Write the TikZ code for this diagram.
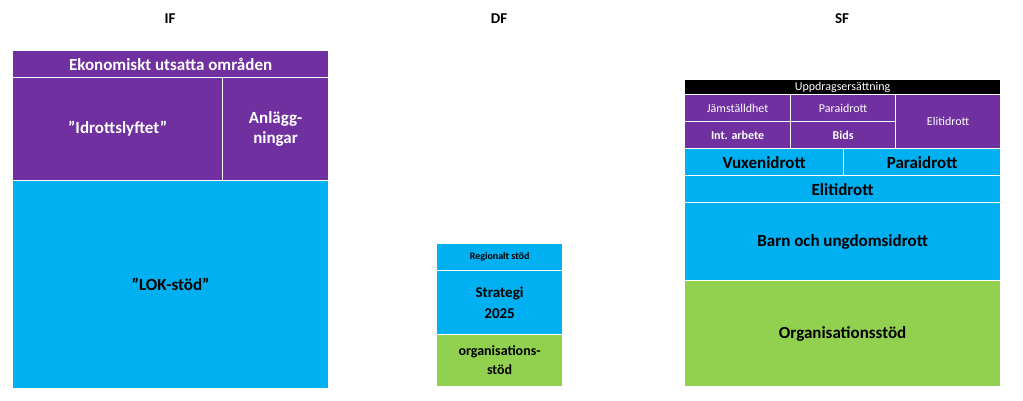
\documentclass[tikz,border=0pt]{standalone}
\usepackage{fontspec}
\setmainfont{Carlito}
\definecolor{pu}{HTML}{7030A0}
\definecolor{bl}{HTML}{00B0F0}
\definecolor{gr}{HTML}{92D050}
\begin{document}
\begin{tikzpicture}[x=1pt,y=-1pt,
 cell/.style={draw=white,line width=1.2pt,inner sep=0pt,anchor=north west,align=center,font=\bfseries},
 ttl/.style={font=\bfseries\fontsize{15}{16}\selectfont}]
\useasboundingbox (0,0) rectangle (1023,401);
\newcommand\cellbox[7]{\node[cell,fill=#1,text=#7,minimum width=#4-#2,minimum height=#5-#3,font=\bfseries\fontsize{#6}{#6}\selectfont] (#1x#2x#3) at (#2,#3) {};}
\node[ttl] (tif) at (170,19) {IF};
\node[ttl] (tdf) at (499,19) {DF};
\node[ttl] (tsf) at (842,19) {SF};
% IF
\node[cell,fill=pu,text=white,minimum width=316,minimum height=27,font=\bfseries\fontsize{17}{17}\selectfont] (a1) at (12,50) {Ekonomiskt utsatta områden};
\node[cell,fill=pu,text=white,minimum width=210,minimum height=103,font=\bfseries\fontsize{17}{17}\selectfont] (a2) at (12,77) {"Idrottslyftet"};
\node[cell,fill=pu,text=white,minimum width=106,minimum height=103,font=\bfseries\fontsize{17}{20}\selectfont] (a3) at (222,77) {Anlägg-\\ningar};
\node[cell,fill=bl,text=black,minimum width=316,minimum height=208,font=\bfseries\fontsize{17}{17}\selectfont] (a4) at (12,180) {"LOK-stöd"};
% DF
\node[cell,fill=bl,text=black,minimum width=126,minimum height=27,font=\bfseries\fontsize{10}{10}\selectfont] (b1) at (436,243) {Regionalt stöd};
\node[cell,fill=bl,text=black,minimum width=126,minimum height=64,font=\bfseries\fontsize{15}{21}\selectfont] (b2) at (436,270) {Strategi\\2025};
\node[cell,fill=gr,text=black,minimum width=126,minimum height=52,font=\bfseries\fontsize{14}{19}\selectfont] (b3) at (436,334) {organisations-\\stöd};
% SF
\node[cell,fill=black,text=white,minimum width=316,minimum height=15,font=\fontsize{12}{12}\selectfont] (c0) at (684,79) {Uppdragsersättning};
\node[cell,fill=pu,text=white,minimum width=106,minimum height=27,font=\fontsize{12}{12}\selectfont] (c1) at (684,94) {Jämställdhet};
\node[cell,fill=pu,text=white,minimum width=105,minimum height=27,font=\fontsize{12}{12}\selectfont] (c2) at (790,94) {Paraidrott};
\node[cell,fill=pu,text=white,minimum width=105,minimum height=54,font=\fontsize{12}{12}\selectfont] (c3) at (895,94) {Elitidrott};
\node[cell,fill=pu,text=white,minimum width=106,minimum height=27,font=\bfseries\fontsize{12}{12}\selectfont] (c4) at (684,121) {Int. arbete};
\node[cell,fill=pu,text=white,minimum width=105,minimum height=27,font=\bfseries\fontsize{12}{12}\selectfont] (c5) at (790,121) {Bids};
\node[cell,fill=bl,text=black,minimum width=159,minimum height=27,font=\bfseries\fontsize{17}{17}\selectfont] (c6) at (684,148) {Vuxenidrott};
\node[cell,fill=bl,text=black,minimum width=157,minimum height=27,font=\bfseries\fontsize{17}{17}\selectfont] (c7) at (843,148) {Paraidrott};
\node[cell,fill=bl,text=black,minimum width=316,minimum height=27,font=\bfseries\fontsize{17}{17}\selectfont] (c8) at (684,175) {Elitidrott};
\node[cell,fill=bl,text=black,minimum width=316,minimum height=78,font=\bfseries\fontsize{17}{17}\selectfont] (c9) at (684,202) {Barn och ungdomsidrott};
\node[cell,fill=gr,text=black,minimum width=316,minimum height=106,font=\bfseries\fontsize{17}{17}\selectfont] (c10) at (684,280) {Organisationsstöd};
\end{tikzpicture}
\end{document}
